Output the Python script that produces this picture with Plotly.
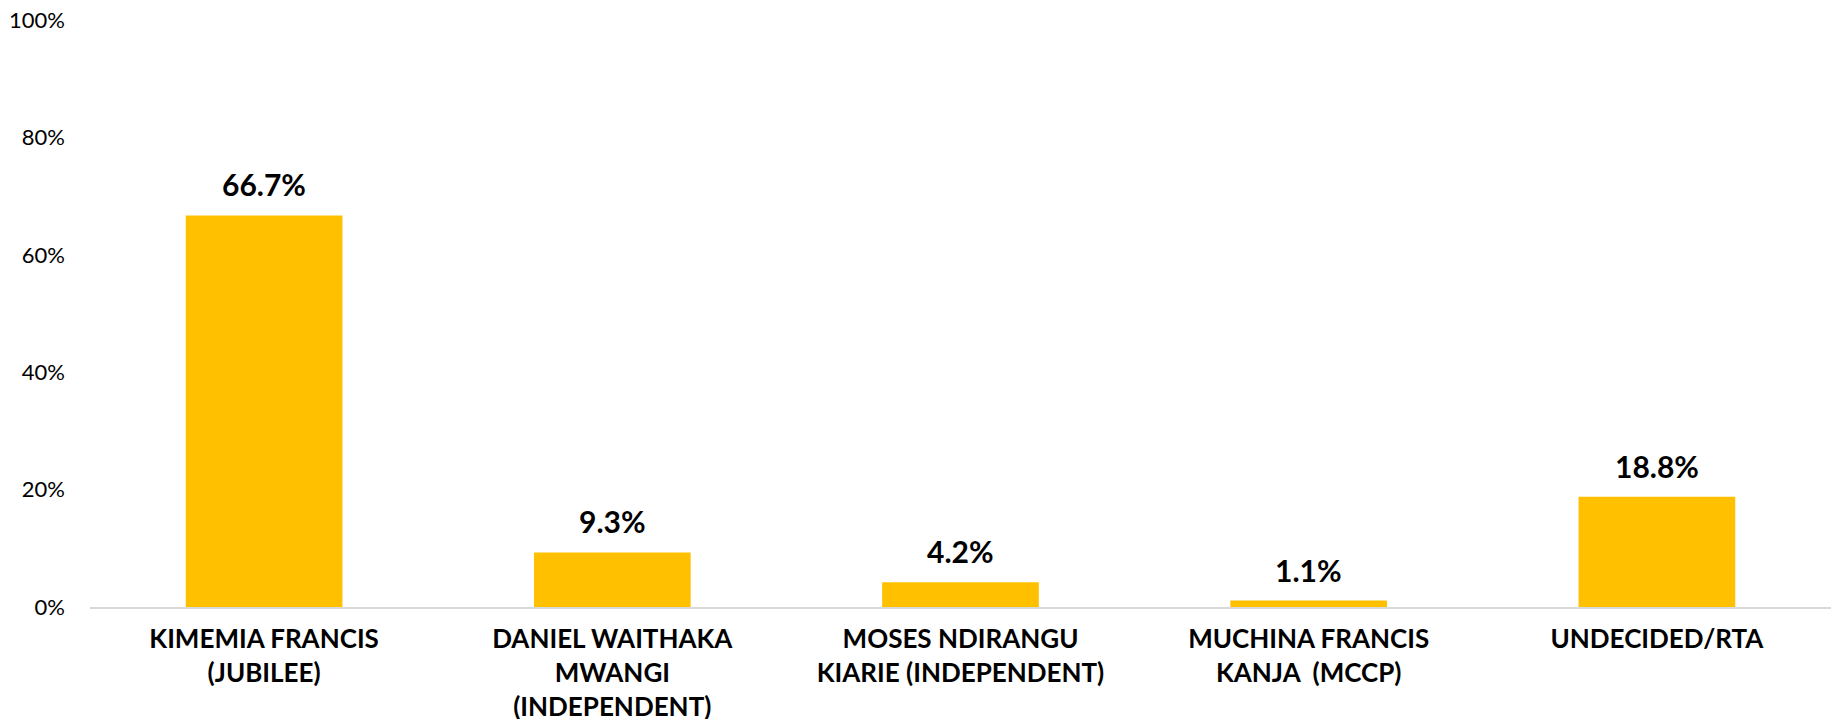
import plotly.graph_objects as go

categories = [
    "KIMEMIA FRANCIS<br>(JUBILEE)",
    "DANIEL WAITHAKA<br>MWANGI<br>(INDEPENDENT)",
    "MOSES NDIRANGU<br>KIARIE (INDEPENDENT)",
    "MUCHINA FRANCIS<br>KANJA  (MCCP)",
    "UNDECIDED/RTA",
]
values = [66.7, 9.3, 4.2, 1.1, 18.8]
value_labels = ["66.7%", "9.3%", "4.2%", "1.1%", "18.8%"]
y_ticks = [0, 20, 40, 60, 80, 100]
y_tick_labels = ["0%", "20%", "40%", "60%", "80%", "100%"]

fig = go.Figure(
    go.Bar(
        x=categories,
        y=values,
        marker=dict(color="#FFC000", line=dict(width=0)),
        hoverinfo="x+y",
    )
)

for cat, val, lab in zip(categories, values, value_labels):
    fig.add_annotation(
        x=cat, y=val, text=lab, showarrow=False,
        yanchor="bottom", yshift=11,
        font=dict(family="Lato", size=30, color="black", weight="bold"),
    )

fig.update_layout(
    width=1831,
    height=719,
    margin=dict(l=90, r=0, t=20, b=112, autoexpand=False),
    plot_bgcolor="white",
    paper_bgcolor="white",
    bargap=0.55,
    showlegend=False,
    font=dict(family="Lato", color="black"),
)
fig.update_xaxes(
    automargin=False,
    showgrid=False,
    showline=True,
    linecolor="#D9D9D9",
    linewidth=2,
    ticks="",
    tickfont=dict(family="Lato", size=26, color="black", weight="bold"),
    ticklabelstandoff=8,
)
fig.update_yaxes(
    automargin=False,
    range=[0, 100],
    tickvals=y_ticks,
    ticktext=y_tick_labels,
    showgrid=False,
    showline=False,
    zeroline=False,
    ticks="",
    tickfont=dict(family="Lato", size=22, color="black"),
    ticklabelstandoff=24,
)

fig.write_html(
    "out.html",
    config={"displayModeBar": False},
    post_script="document.body.style.margin='0';",
)
